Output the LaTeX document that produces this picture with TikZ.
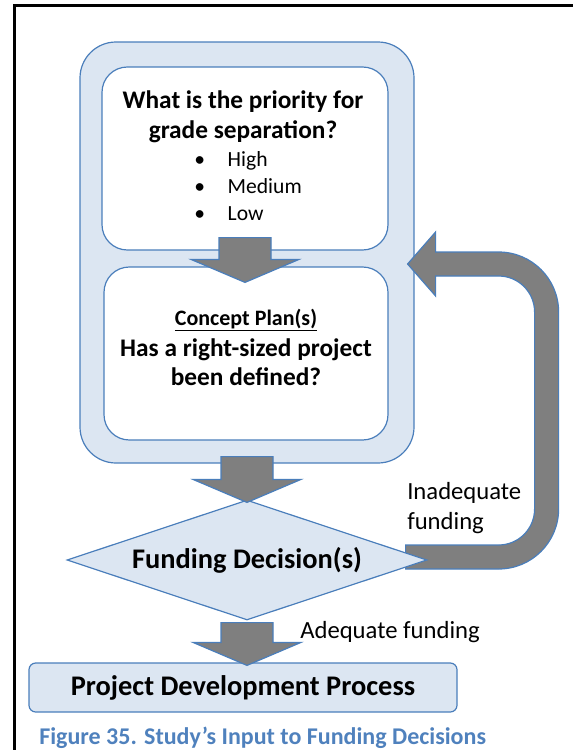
\documentclass[tikz,border=0pt]{standalone}
\usepackage{fontspec}
\setmainfont{Carlito}
\usetikzlibrary{shapes.geometric, calc}

\definecolor{boxfill}{HTML}{DCE6F2}
\definecolor{boxline}{HTML}{4A7EBB}
\definecolor{arrowgray}{HTML}{7F7F7F}
\definecolor{captionblue}{HTML}{4F81BD}

% block arrow pointing down, from #1 (top middle) to #2 (tip)
\newcommand{\blockdown}[2]{%
  \draw[blockarrow] let \p1=#1, \p2=#2 in
    ({\x1-19.5pt},\y1) -- ({\x1+19.5pt},\y1) -- ({\x1+19.5pt},{\y2+17.25pt})
    -- ({\x1+40.5pt},{\y2+17.25pt}) -- (\x1,\y2) -- ({\x1-40.5pt},{\y2+17.25pt})
    -- ({\x1-19.5pt},{\y2+17.25pt}) -- cycle;}

\begin{document}
\begin{tikzpicture}[x=0.75pt, y=-0.75pt,
    frameline/.style={line width=2.25pt},
    groupbox/.style={rectangle, draw=boxline, fill=boxfill, line width=0.9pt, rounded corners=27pt, inner sep=0pt},
    stepbox/.style={rectangle, draw=boxline, fill=white, line width=0.9pt, rounded corners=19pt, inner sep=0pt},
    decision/.style={diamond, aspect=3, draw=boxline, fill=boxfill, line width=0.9pt, inner sep=0pt,
      font=\fontsize{21.3}{25}\selectfont\bfseries},
    processbox/.style={rectangle, draw=boxline, fill=boxfill, line width=0.9pt, rounded corners=5pt, inner sep=0pt,
      font=\fontsize{21.3}{25}\selectfont\bfseries},
    blockarrow/.style={draw=boxline, fill=arrowgray, line width=0.9pt, line join=miter},
    question/.style={inner sep=0pt, align=center, font=\fontsize{19}{22.5}\selectfont\bfseries},
    subhead/.style={inner sep=0pt, font=\fontsize{16.5}{20}\selectfont\bfseries},
    listtext/.style={inner sep=0pt, align=left, font=\fontsize{16.2}{20.25}\selectfont},
    lbltext/.style={inner sep=0pt, align=left, font=\fontsize{18.5}{22.5}\selectfont},
    captext/.style={inner sep=0pt, text=captionblue, font=\fontsize{18}{22}\selectfont\bfseries}]

  \useasboundingbox (0,0) rectangle (573,750);
  \draw[frameline] (14,750) -- (14,5) -- (573,5);

  % study steps
  \node[groupbox, minimum width=250.5pt, minimum height=315.75pt] (group) at (247,252.5) {};
  \node[stepbox, minimum width=214.5pt, minimum height=137.25pt] (prio) at (245,158.5) {};
  \node[stepbox, minimum width=213pt, minimum height=129.75pt] (plan) at (246,353.5) {};

  \node[question] (prioq) at (243,117) {What is the priority for\\grade separation?};
  \node[listtext, anchor=west] (levels) at (194,186)
    {\textbullet\hspace{17pt}High\\\textbullet\hspace{17pt}Medium\\\textbullet\hspace{17pt}Low};

  \node[subhead] (plantitle) at (246,320) {\underline{Concept Plan(s)}};
  \node[question, font=\fontsize{19}{21.75}\selectfont\bfseries] (planq) at (246,362.5)
    {Has a right-sized project\\been defined?};

  % loop back when funding is short
  \draw[blockarrow] ($(group.east)+(-7,11.5)$) -- ++(28,-32) -- ++(0,20) -- ++(63,0)
    arc[start angle=90, end angle=0, radius=45pt] -- ++(0,197)
    arc[start angle=0, end angle=-90, radius=45pt] -- ++(-93,0) -- ++(0,-24) -- ++(93,0)
    arc[start angle=-90, end angle=0, radius=27pt] -- ++(0,-197)
    arc[start angle=0, end angle=90, radius=27pt] -- ++(-63,0) -- ++(0,20) -- cycle;

  \node[decision, minimum width=270pt, minimum height=90pt] (fund) at (247,560) {Funding Decision(s)};
  \node[processbox, minimum width=321pt, minimum height=36.75pt] (pdp) at (243,687.5) {Project Development Process};

  \blockdown{($(prio.south)+(0,-13)$)}{($(plan.north)+(0,16)$)}
  \blockdown{($(group.south)+(0,-7)$)}{($(fund.north)+(0,3)$)}
  \blockdown{($(fund.south)+(0,2)$)}{($(pdp.north)+(0,3)$)}

  \node[lbltext, anchor=west] (inadequate) at (407,508) {Inadequate\\funding};
  \node[lbltext, anchor=west] (adequate) at (300,632) {Adequate funding};

  \node[captext, anchor=west] (caption) at (39,738) {Figure 35. Study’s Input to Funding Decisions};
\end{tikzpicture}
\end{document}
